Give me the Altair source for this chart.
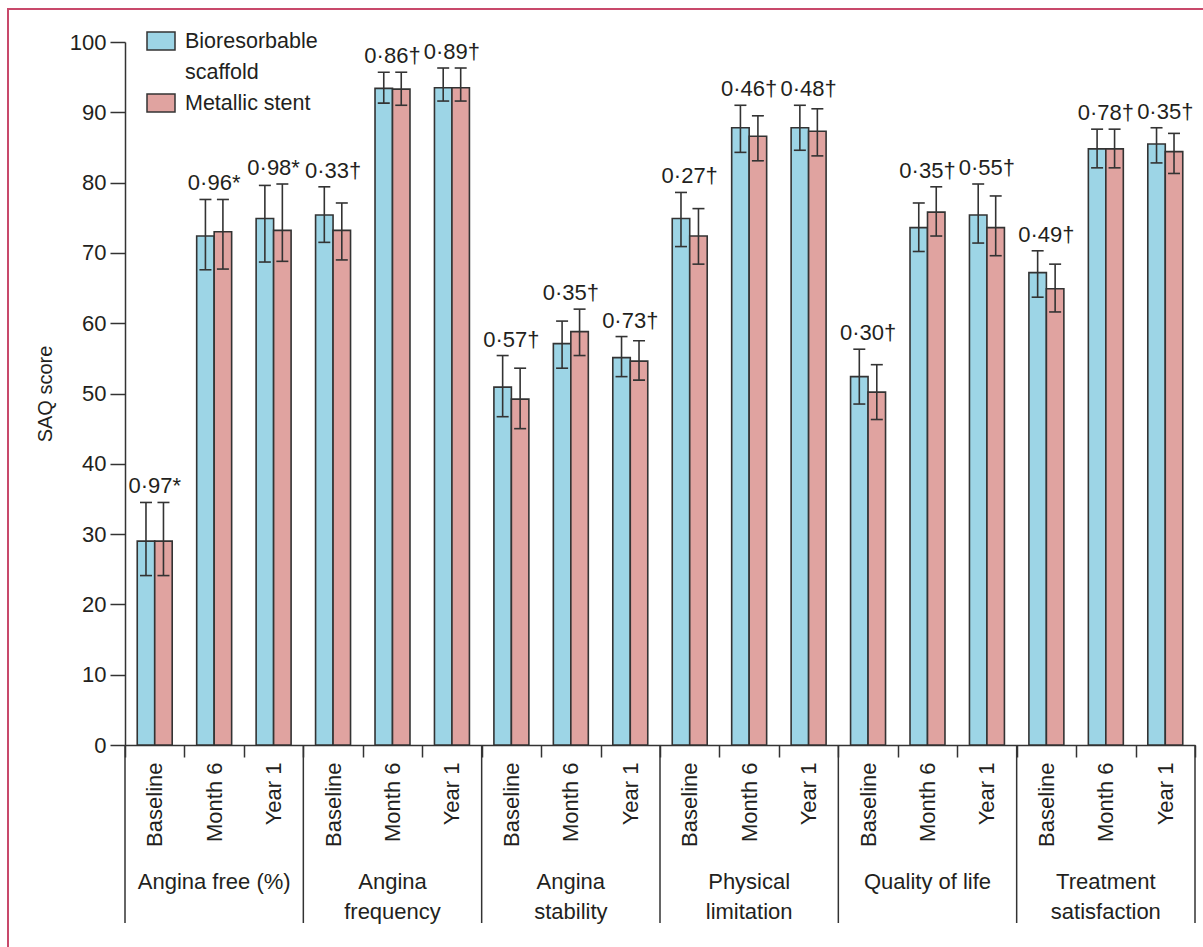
import altair as alt
import pandas as pd

# SAQ domains and follow-up time points
groups = ["Angina free (%)", "Angina frequency", "Angina stability",
          "Physical limitation", "Quality of life", "Treatment satisfaction"]
group_text = ["Angina free (%)", "Angina\nfrequency", "Angina\nstability",
              "Physical\nlimitation", "Quality of life", "Treatment\nsatisfaction"]
timepoints = ["Baseline", "Month 6", "Year 1"]
series = ["Bioresorbable scaffold", "Metallic stent"]

# Mean scores and error-bar limits, in domain order, Baseline / Month 6 / Year 1
scaffold_mean = [29.0, 72.4, 74.9, 75.4, 93.4, 93.5, 50.9, 57.1, 55.1,
                 74.9, 87.8, 87.8, 52.4, 73.6, 75.4, 67.2, 84.8, 85.5]
scaffold_low = [24.1, 67.6, 68.7, 71.5, 91.3, 91.6, 46.7, 53.6, 52.4,
                70.9, 84.3, 84.6, 48.5, 70.2, 71.4, 63.7, 82.1, 82.8]
scaffold_high = [34.5, 77.6, 79.6, 79.4, 95.7, 96.3, 55.4, 60.3, 58.1,
                 78.6, 91.0, 91.0, 56.3, 77.1, 79.8, 70.3, 87.6, 87.8]

stent_mean = [29.0, 73.0, 73.2, 73.2, 93.3, 93.5, 49.2, 58.8, 54.6,
              72.4, 86.6, 87.3, 50.2, 75.8, 73.6, 64.9, 84.8, 84.4]
stent_low = [24.1, 67.7, 68.8, 69.0, 91.0, 91.6, 45.0, 55.4, 51.9,
             68.4, 83.1, 83.8, 46.3, 72.4, 69.6, 61.6, 82.1, 81.3]
stent_high = [34.5, 77.6, 79.8, 77.1, 95.7, 96.3, 53.6, 62.0, 57.5,
              76.3, 89.5, 90.5, 54.1, 79.4, 78.1, 68.4, 87.6, 87.0]

p_values = ["0·97*", "0·96*", "0·98*", "0·33†", "0·86†", "0·89†",
            "0·57†", "0·35†", "0·73†", "0·27†", "0·46†", "0·48†",
            "0·30†", "0·35†", "0·55†", "0·49†", "0·78†", "0·35†"]

colors = ["#9dd5e6", "#e0a3a0"]
ink = "#231f20"
edge = "#333333"
font = "Liberation Sans"

slots = [f"{g}|{t}" for g in groups for t in timepoints]

rows = []
for name, mean, lo, hi in [(series[0], scaffold_mean, scaffold_low, scaffold_high),
                           (series[1], stent_mean, stent_low, stent_high)]:
    for i, s in enumerate(slots):
        rows.append({"slot": s, "series": name, "mean": mean[i], "lo": lo[i], "hi": hi[i]})
bars_df = pd.DataFrame(rows)

labels_df = pd.DataFrame({
    "slot": slots,
    "text": p_values,
    "top": [max(a, b) for a, b in zip(scaffold_high, stent_high)],
})

group_df = pd.DataFrame({
    "slot": [slots[3 * i + 1] for i in range(len(groups))],
    "text": group_text,
})
start_df = pd.DataFrame({"slot": [slots[3 * i] for i in range(len(groups))]})
end_df = pd.DataFrame({"slot": [slots[-1]]})

legend_df = pd.DataFrame({"series": series,
                          "label": ["Bioresorbable\nscaffold", "Metallic stent"]})

x_scale = alt.Scale(paddingInner=0, paddingOuter=0)
y_scale = alt.Scale(domain=[0, 100], nice=False)
color_scale = alt.Scale(domain=series, range=colors)
offset = alt.XOffset("series:N", sort=series,
                     scale=alt.Scale(paddingInner=0, paddingOuter=0.7))

x_axis = alt.Axis(
    title=None, labelAngle=270, labelExpr="split(datum.label, '|')[1]",
    labelFontSize=22, labelPadding=5, labelColor=ink, labelFont=font,
    tickSize=12, tickBand="extent", tickColor=edge, tickWidth=1.5,
    domainColor=edge, domainWidth=1.5,
)
y_axis = alt.Axis(
    title="SAQ score", titleFontSize=20, titleFontWeight="normal", titleColor=ink,
    titleFont=font, titlePadding=14,
    values=list(range(0, 101, 10)), labelFontSize=22, labelColor=ink, labelFont=font,
    labelPadding=4, tickSize=15, tickColor=edge, tickWidth=1.5,
    domainColor=edge, domainWidth=1.5, grid=False,
)

X = alt.X("slot:N", sort=slots, scale=x_scale, axis=x_axis)

frame = alt.Chart(pd.DataFrame({"k": [0]})).mark_rect(
    fill=None, stroke="#c8496b", strokeWidth=2
).encode(x=alt.value(-117), x2=alt.value(1200), y=alt.value(-33), y2=alt.value(1000))

bars = alt.Chart(bars_df).mark_bar(stroke=edge, strokeWidth=1.6).encode(
    x=X,
    xOffset=offset,
    y=alt.Y("mean:Q", scale=y_scale, axis=y_axis),
    fill=alt.Color("series:N", scale=color_scale, legend=None),
)

whiskers = alt.Chart(bars_df).mark_rule(color=edge, strokeWidth=1.6).encode(
    x=alt.X("slot:N", sort=slots), xOffset=offset, y="lo:Q", y2="hi:Q"
)
cap_hi = alt.Chart(bars_df).mark_tick(
    orient="horizontal", size=12, thickness=1.6, color=edge, opacity=1
).encode(x=alt.X("slot:N", sort=slots), xOffset=offset, y="hi:Q")
cap_lo = alt.Chart(bars_df).mark_tick(
    orient="horizontal", size=12, thickness=1.6, color=edge, opacity=1
).encode(x=alt.X("slot:N", sort=slots), xOffset=offset, y="lo:Q")

p_text = alt.Chart(labels_df).mark_text(
    fontSize=22, font=font, color=ink, baseline="alphabetic", dy=-9
).encode(x=alt.X("slot:N", sort=slots), y="top:Q", text="text:N")

sep_start = alt.Chart(start_df).mark_rule(color=edge, strokeWidth=1.5).encode(
    x=alt.X("slot:N", sort=slots, bandPosition=0), y=alt.value(703), y2=alt.value(881)
)
sep_end = alt.Chart(end_df).mark_rule(color=edge, strokeWidth=1.5).encode(
    x=alt.X("slot:N", sort=slots, bandPosition=1), y=alt.value(703), y2=alt.value(881)
)

group_labels = alt.Chart(group_df).mark_text(
    fontSize=22, font=font, color=ink, baseline="alphabetic", lineBreak="\n", lineHeight=30
).encode(x=alt.X("slot:N", sort=slots), y=alt.value(847), text="text:N")

legend_layers = []
for i, s in enumerate(series):
    top = [-10, 52][i]
    legend_layers.append(
        alt.Chart(legend_df).transform_filter(alt.datum.series == s).mark_rect(
            stroke=edge, strokeWidth=1.5
        ).encode(
            x=alt.value(22), x2=alt.value(50), y=alt.value(top), y2=alt.value(top + 18),
            fill=alt.Color("series:N", scale=color_scale, legend=None),
        )
    )
    legend_layers.append(
        alt.Chart(legend_df).transform_filter(alt.datum.series == s).mark_text(
            fontSize=21.5, font=font, color=ink, align="left", baseline="alphabetic",
            lineBreak="\n", lineHeight=31
        ).encode(x=alt.value(60), y=alt.value(top + 16), text="label:N")
    )

chart = alt.layer(
    frame, bars, whiskers, cap_hi, cap_lo, p_text, sep_start, sep_end, group_labels,
    *legend_layers
).properties(
    width=1070, height=703,
    autosize=alt.AutoSizeParams(type="none"),
    padding={"left": 125, "top": 42, "right": 8, "bottom": 202},
    background="white",
).configure_view(stroke=None)

chart.save("out.html", embed_options={"renderer": "svg", "actions": False})
